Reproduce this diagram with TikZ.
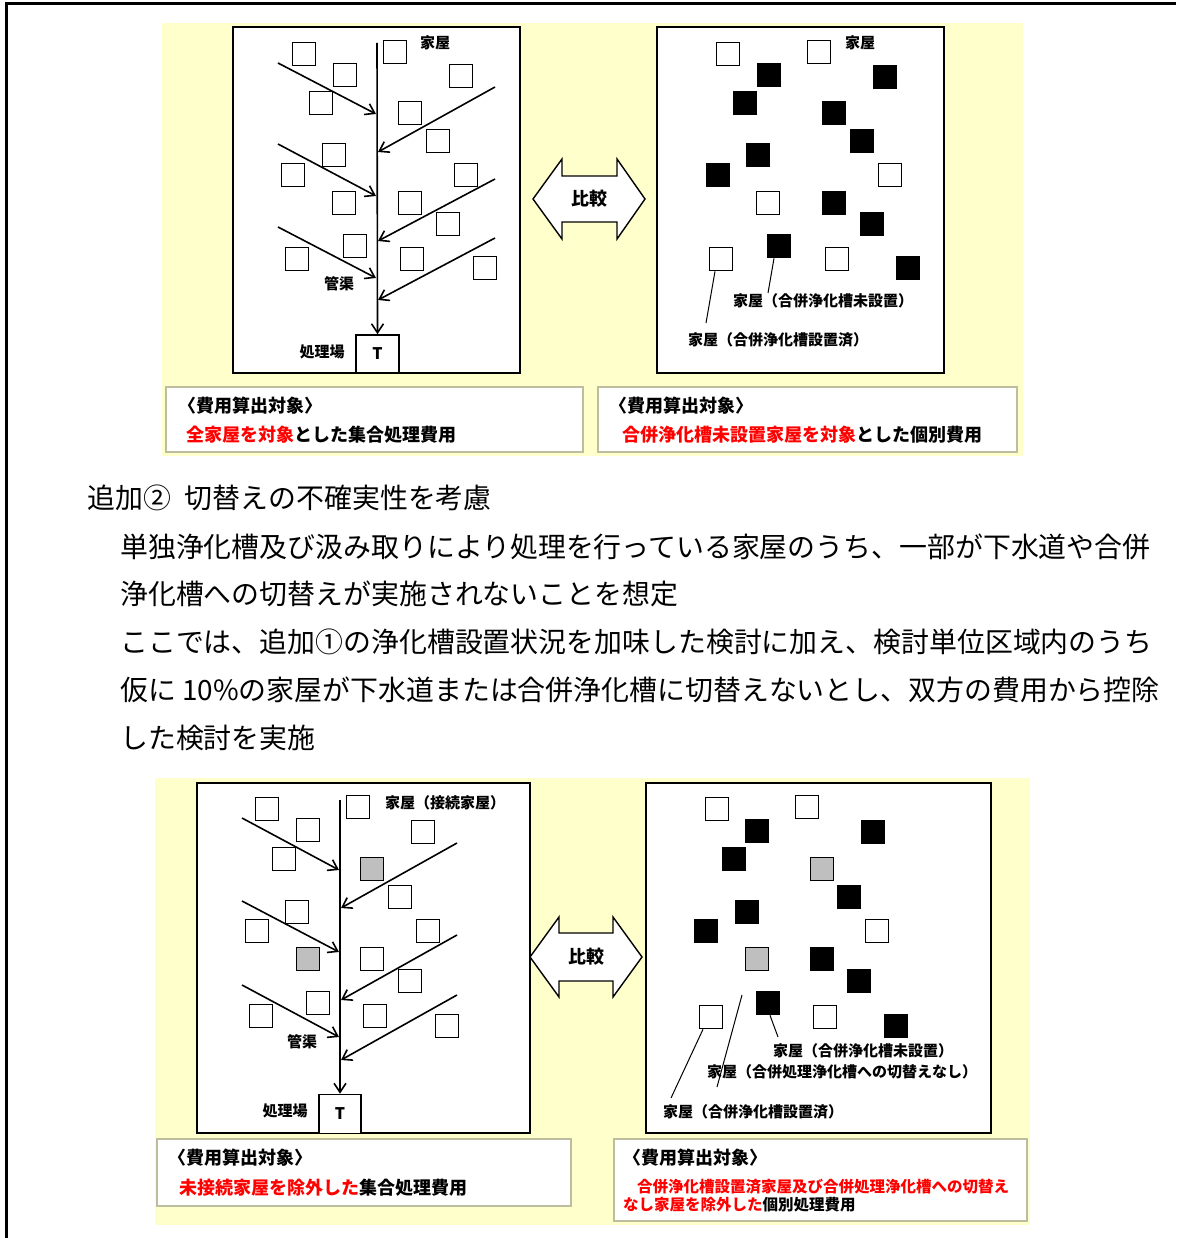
\documentclass[tikz,border=0pt]{standalone}
\usepackage{fontspec}
\newfontfamily\jp{Noto Sans CJK JP}
\usetikzlibrary{arrows.meta}
\definecolor{ybg}{HTML}{FFFFCC}
\definecolor{boxline}{HTML}{BDBDA0}
\definecolor{jred}{HTML}{FF0000}
\definecolor{hgray}{HTML}{BFBFBF}
\begin{document}
\begin{tikzpicture}[x=1pt,y=-1pt,
  hw/.style={draw=black,line width=1.6pt,fill=white,minimum size=23pt,inner sep=0pt},
  hb/.style={hw,fill=black},
  hg/.style={hw,fill=hgray},
  panel/.style={draw=black,line width=2pt,fill=white},
  lbl/.style={font=\jp\bfseries\fontsize{15}{18}\selectfont,inner sep=0pt},
  boxtxt/.style={font=\jp\bfseries\fontsize{18}{20}\selectfont,inner sep=0pt,anchor=west},
  smalltxt/.style={font=\jp\bfseries\fontsize{15.5}{18}\selectfont,inner sep=0pt,anchor=west},
  body/.style={font=\jp\fontsize{27.9}{30}\selectfont,inner sep=0pt,anchor=west},
  tbox/.style={draw=boxline,line width=1.5pt,fill=white},
  tank/.style={draw=black,line width=1.6pt,fill=white,inner sep=0pt,font=\jp\bfseries\fontsize{16}{18}\selectfont},
  pipe/.style={line width=1.6pt,-{Straight Barb[length=9pt,width=12pt]}},
  leader/.style={line width=1pt},
  cmpshape/.style={draw=black,line width=1.4pt,fill=white,line join=miter}]
\useasboundingbox (0,0) rectangle (1176,1238);
\fill[white] (0,0) rectangle (1176,1238);
% outer frame
\draw[line width=3pt] (6,1238) -- (6,4) -- (1176,4);

% ================= TOP SECTION =================
\fill[ybg] (162,23) rectangle (1023,456);
\path[panel] (233,27) rectangle (520,373);
\path[panel] (657,27) rectangle (944,373);

% top-left squares
\foreach \x/\y/\s [count=\i] in {304/54/hw,345/75/hw,321/103/hw,395/52/hw,461/76/hw,410/113/hw,438/141/hw,334/155/hw,293/175/hw,344/203/hw,466/175/hw,410/203/hw,448/224/hw,355/246/hw,297/259/hw,412/259/hw,485/268/hw}
  \node[\s] (a\i) at (\x,\y) {};
% top-right squares
\foreach \x/\y/\s [count=\i] in {728/54/hw,819/52/hw,769/75/hb,885/77/hb,745/103/hb,834/113/hb,862/141/hb,758/155/hb,718/175/hb,890/175/hw,768/203/hw,834/203/hb,872/224/hb,779/246/hb,721/259/hw,837/259/hw,908/268/hb}
  \node[\s] (b\i) at (\x,\y) {};

% sewer tree top-left
\node[tank,minimum width=43pt,minimum height=38pt] (T1) at (377.5,354) {T};
\coordinate (tt1) at (377,43);
\draw[pipe] (tt1) -- (T1.north);
\coordinate (s1) at (278,63);  \coordinate (j1) at (376,114);
\coordinate (s2) at (278,144); \coordinate (j2) at (376,196);
\coordinate (s3) at (278,227); \coordinate (j3) at (376,278);
\coordinate (s4) at (495,87);  \coordinate (j4) at (378,152);
\coordinate (s5) at (495,179); \coordinate (j5) at (378,241);
\coordinate (s6) at (495,238); \coordinate (j6) at (378,300);
\foreach \k in {1,...,6} \draw[pipe] (s\k) -- (j\k);
\node[lbl] (h1) at (435,43) {家屋};
\node[lbl] (k1) at (339,284) {管渠};
\node[lbl] (p1) at (322,352) {処理場};

% labels top-right
\node[lbl] (h2) at (860,43) {家屋};
\node[lbl] (u1) at (823,301) {家屋（合併浄化槽未設置）};
\node[lbl] (u2) at (778,340) {家屋（合併浄化槽設置済）};
\coordinate (l1) at (768,293);
\coordinate (l2) at (706,323);
\draw[leader] ([xshift=-5pt]b14.south) -- (l1);
\draw[leader] ([xshift=-6pt]b15.south) -- (l2);

% compare arrow top
\node[lbl,font=\jp\bfseries\fontsize{18}{20}\selectfont] (cmp1) at (589,199) {};
\draw[cmpshape] (533,199) -- (562,159) -- (562,176) -- (617,176) -- (617,159) -- (645,199) -- (617,239) -- (617,222) -- (562,222) -- (562,239) -- cycle;
\node[lbl,font=\jp\bfseries\fontsize{18}{20}\selectfont] (cmpt1) at (cmp1) {比較};

% cost boxes top
\path[tbox] (166,387) rectangle (583,452);
\path[tbox] (598,387) rectangle (1017,452);
\node[boxtxt] (c1a) at (178,406) {〈費用算出対象〉};
\node[boxtxt] (c1b) at (186,435) {{\color{jred}全家屋を対象}とした集合処理費用};
\node[boxtxt] (c2a) at (609,406) {〈費用算出対象〉};
\node[boxtxt] (c2b) at (622,435) {{\color{jred}合併浄化槽未設置家屋を対象}とした個別費用};

% ================= BODY TEXT =================
\node[body] (t0) at (87,498) {追加②\hspace{0.5em}切替えの不確実性を考慮};
\node[body] (t1) at (120,547) {単独浄化槽及び汲み取りにより処理を行っている家屋のうち、一部が下水道や合併};
\node[body] (t2) at (120,594) {浄化槽への切替えが実施されないことを想定};
\node[body] (t3) at (120,642) {ここでは、追加①の浄化槽設置状況を加味した検討に加え、検討単位区域内のうち};
\node[body] (t4) at (120,690) {仮に 10\%の家屋が下水道または合併浄化槽に切替えないとし、双方の費用から控除};
\node[body] (t5) at (120,738) {した検討を実施};

% ================= BOTTOM SECTION =================
\fill[ybg] (155,778) rectangle (1030,1225);
\path[panel] (197,783) rectangle (530,1133);
\path[panel] (646,783) rectangle (991,1133);

% bottom-left squares
\foreach \x/\y/\s [count=\i] in {267/809/hw,358/807/hw,308/830/hw,423/832/hw,284/859/hw,372/869/hg,400/897/hw,297/912/hw,257/931/hw,428/931/hw,308/959/hg,372/959/hw,410/981/hw,318/1003/hw,261/1016/hw,375/1016/hw,447/1026/hw}
  \node[\s] (c\i) at (\x,\y) {};
% bottom-right squares
\foreach \x/\y/\s [count=\i] in {717/809/hw,807/807/hw,757/831/hb,873/832/hb,734/859/hb,822/869/hg,849/897/hb,747/912/hb,706/931/hb,877/931/hw,757/959/hg,822/959/hb,859/981/hb,768/1003/hb,711/1017/hw,825/1017/hw,896/1026/hb}
  \node[\s] (d\i) at (\x,\y) {};

% sewer tree bottom-left
\node[tank,minimum width=42pt,minimum height=39pt] (T2) at (340,1114) {T};
\coordinate (tt2) at (340,800);
\draw[pipe] (tt2) -- (T2.north);
\coordinate (r1) at (242,818); \coordinate (q1) at (339,870);
\coordinate (r2) at (242,901); \coordinate (q2) at (339,952);
\coordinate (r3) at (242,985); \coordinate (q3) at (339,1037);
\coordinate (r4) at (457,843); \coordinate (q4) at (341,908);
\coordinate (r5) at (457,935); \coordinate (q5) at (341,1000);
\coordinate (r6) at (457,995); \coordinate (q6) at (341,1060);
\foreach \k in {1,...,6} \draw[pipe] (r\k) -- (q\k);
\node[lbl] (h3) at (445,803) {家屋（接続家屋）};
\node[lbl] (k2) at (302,1042) {管渠};
\node[lbl] (p2) at (285,1111) {処理場};

% labels bottom-right
\node[lbl] (v1) at (863,1051) {家屋（合併浄化槽未設置）};
\node[lbl] (v2) at (842,1072) {家屋（合併処理浄化槽への切替えなし）};
\node[lbl] (v3) at (753,1112) {家屋（合併浄化槽設置済）};
\coordinate (m1) at (778,1037);
\coordinate (m2s) at (742,995);
\coordinate (m2) at (717,1087);
\coordinate (m3) at (671,1098);
\draw[leader] ([xshift=2pt]d14.south) -- (m1);
\draw[leader] (m2s) -- (m2);
\draw[leader] ([xshift=-8pt]d15.south) -- (m3);

% compare arrow bottom
\coordinate (cmp2) at (586,957);
\draw[cmpshape] (530,957) -- (559,917) -- (559,933) -- (613,933) -- (613,917) -- (642,957) -- (613,997) -- (613,981) -- (559,981) -- (559,997) -- cycle;
\node[lbl,font=\jp\bfseries\fontsize{18}{20}\selectfont] (cmpt2) at (cmp2) {比較};

% cost boxes bottom
\path[tbox] (157,1139) rectangle (571,1206);
\path[tbox] (614,1139) rectangle (1027,1221);
\node[boxtxt] (e1a) at (168,1158) {〈費用算出対象〉};
\node[boxtxt] (e1b) at (179,1188) {{\color{jred}未接続家屋を除外した}集合処理費用};
\node[boxtxt] (e2a) at (623,1158) {〈費用算出対象〉};
\node[smalltxt] (e2b) at (637,1187) {\color{jred}合併浄化槽設置済家屋及び合併処理浄化槽への切替え};
\node[smalltxt] (e2c) at (623,1205) {{\color{jred}なし家屋を除外した}個別処理費用};
\end{tikzpicture}
\end{document}
